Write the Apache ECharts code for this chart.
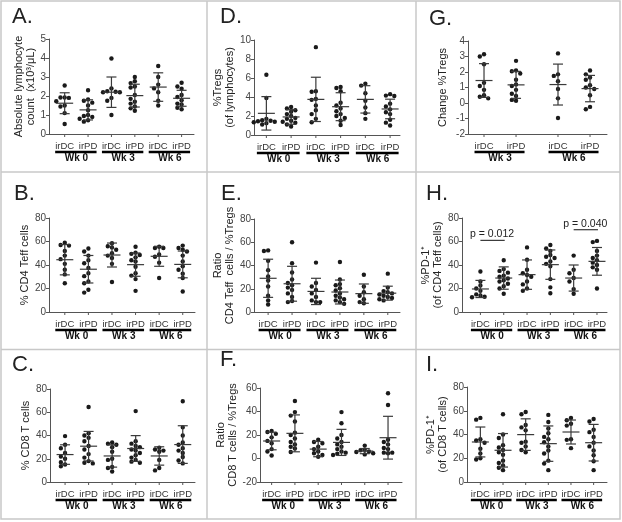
<!DOCTYPE html>
<html><head><meta charset="utf-8">
<script src="https://cdn.jsdelivr.net/npm/echarts@6/dist/echarts.min.js"></script>
<style>html,body{margin:0;padding:0;background:#fff}#c{width:622px;height:522px}</style>
</head><body><div id="c"></div>
<script>
const FONT = '"Liberation Sans", Arial, sans-serif';
const categories = ['irDC','irPD','irDC','irPD','irDC','irPD'];
const weeks = ['Wk 0','Wk 3','Wk 6'];
const categoriesG = ['irDC','irPD','irDC','irPD'];
const weeksG = ['Wk 3','Wk 6'];

// Panel A: absolute lymphocyte count
const A_values = [
 [2.55, 1.92, 1.92, 1.9, 1.72, 1.5, 1.45, 1.1, 0.53],
 [2.3, 1.82, 1.75, 1.65, 1.5, 1.25, 1.0, 0.95, 0.9, 0.8, 0.72, 0.65],
 [3.97, 2.4, 2.25, 2.22, 2.2, 2.2, 1.9, 1.75, 1.0],
 [3.0, 2.78, 2.68, 2.5, 2.45, 2.05, 1.85, 1.7, 1.6, 1.45, 1.35, 1.22],
 [3.58, 3.0, 2.6, 2.4, 2.2, 1.75, 1.5],
 [2.7, 2.5, 2.38, 2.05, 1.95, 1.78, 1.6, 1.55, 1.38, 1.3]
];
const A_mean = [1.62, 1.27, 2.2, 2.02, 2.47, 1.88];
const A_sd = [0.55, 0.53, 0.8, 0.6, 0.75, 0.42];

// Panel D: %Tregs
const D_values = [
 [6.35, 3.9, 1.7, 1.55, 1.5, 1.45, 1.4, 1.35, 1.25, 1.1],
 [2.95, 2.8, 2.6, 2.45, 2.2, 2.0, 1.8, 1.7, 1.5, 1.4, 1.3, 1.1, 0.9],
 [9.25, 4.6, 4.55, 3.8, 3.7, 3.1, 2.6, 2.2, 1.7, 1.35],
 [5.05, 4.95, 4.6, 3.4, 3.1, 2.8, 2.5, 2.2, 2.0, 1.8, 1.5, 1.05],
 [5.4, 5.2, 4.4, 3.6, 2.9, 2.3, 1.7],
 [4.3, 4.15, 4.1, 3.3, 3.0, 2.7, 2.4, 2.2, 1.6, 1.3, 1.0]
];
const D_mean = [2.28, 1.9, 3.75, 2.98, 3.75, 2.74];
const D_sd = [1.76, 0.77, 2.33, 1.47, 1.44, 1.03];

// Panel G: change %Tregs
const G_values = [
 [3.15, 3.0, 2.5, 1.3, 1.1, 0.85, 0.5, 0.4, 0.3],
 [2.72, 2.1, 2.05, 1.9, 1.5, 1.2, 1.1, 0.85, 0.6, 0.45, 0.2, 0.15],
 [3.2, 1.85, 1.75, 1.4, 0.9, 0.3, -0.97],
 [2.1, 1.85, 1.65, 1.5, 1.15, 1.0, 0.9, 0.5, -0.25, -0.4]
];
const G_mean = [1.45, 1.17, 1.19, 0.93];
const G_sd = [1.09, 0.87, 1.32, 0.85];

// Panel B: % CD4 Teff
const B_values = [
 [59, 57, 56.5, 52, 48, 45, 41, 36, 32, 24.5],
 [54, 51.5, 48, 44, 41.5, 37.5, 33, 30.5, 26, 24.5, 19, 16.5],
 [58.5, 56, 55, 53, 50, 48, 46, 41, 25.5],
 [55.5, 50.5, 49.5, 48.5, 46.5, 44, 43, 38.5, 33, 31, 28, 18],
 [55.5, 54.5, 54.5, 49, 47, 42, 29],
 [56.5, 54.5, 53, 51.5, 48, 43, 39, 36, 32.5, 29, 17.5]
];
const B_mean = [44.5, 36.4, 48.5, 40.3, 47.4, 40.5];
const B_sd = [12.9, 11.7, 10.2, 9.9, 8.5, 11.4];

// Panel E: ratio CD4 Teff / %Tregs
const E_values = [
 [53, 52.5, 44, 36, 30.5, 27, 22, 14, 10, 6.5],
 [60, 42, 34, 28, 25, 23, 21, 19, 16, 13, 9.5, 8.5],
 [42.5, 25, 22, 19, 16, 13, 10, 8.5, 8.5],
 [43, 28, 24, 23, 20.5, 18.5, 16, 14, 12.5, 11, 10, 8.5, 7],
 [32, 22, 17, 14, 11, 8.5, 7.5],
 [33, 21, 18, 17, 16, 15, 14, 13, 12, 11, 10]
];
const E_mean = [29, 24.3, 17.7, 17.2, 15.8, 16.2];
const E_sd = [16.4, 15, 11.3, 10.3, 8.3, 6.0];

// Panel H: %PD-1+ of CD4 Teff
const H_values = [
 [34.5, 26, 22.5, 20, 18, 15, 14, 13, 12.5],
 [44, 36.5, 35, 33.5, 31, 30, 28.5, 27, 26, 24, 22, 20, 15.5],
 [55, 44.5, 36, 33, 31.5, 30, 26, 23.5, 20, 18],
 [57, 54, 52, 48.5, 47, 46, 43, 41, 39, 28, 21, 16],
 [48, 36, 33, 29, 26, 19.5, 15.5],
 [60.5, 59.5, 52, 48, 46, 44, 42, 40, 38, 36, 20]
];
const H_mean = [19.6, 28.9, 31.8, 40.3, 28.9, 43.1];
const H_sd = [7.3, 9.5, 12.5, 12.5, 11.1, 11.8];
const H_pText = ['p = 0.012', 'p = 0.040'];
const H_pPairs = [[0, 1], [4, 5]];
const H_pLevel = [61, 70];

// Panel C: % CD8 T cells
const C_values = [
 [39.5, 32, 29, 25, 22, 20, 17, 15, 13.5],
 [64.5, 42, 40, 38, 35, 31, 28, 24, 21, 18, 16.5, 16],
 [34, 33, 32, 30, 26, 20, 19, 12, 13, 9],
 [61, 35, 33, 31, 30, 28, 27, 25, 23, 21, 19, 17.5, 16.5],
 [29.5, 28, 27, 26, 19, 12, 10],
 [69.5, 47, 40, 34, 32, 29, 27, 25, 21.5, 18.5, 16]
];
const C_mean = [23.6, 30.8, 22.4, 28.8, 22.4, 32.2];
const C_sd = [8.4, 12.7, 9.6, 11.1, 7.9, 16.2];

// Panel F: ratio CD8 T / %Tregs
const F_values = [
 [23.5, 22.5, 21, 18, 15, 13, 8, 6, 2.5],
 [49, 39.5, 36.5, 22, 31.5, 20, 17, 14, 12, 10, 8.5, 5.5],
 [16, 14, 13, 10, 8, 6, 4.5, 3, 1.5],
 [39.5, 30, 20, 17, 14, 12, 10, 8, 6, 5, 4, 3],
 [11, 7.5, 7, 6, 5.5, 4.5, 3.5],
 [55.5, 45.5, 16, 14, 12, 9, 8, 5, 5, 4.5]
];
const F_mean = [14.9, 21.4, 8.0, 13.7, 6.3, 17.7];
const F_sd = [7.5, 15.7, 6.5, 11.1, 2.2, 18.2];

// Panel I: %PD-1+ of CD8 T
const I_values = [
 [54, 52.5, 36, 35, 33, 28, 24, 20, 19],
 [57, 40, 37, 31, 29, 27, 25, 23, 18, 16, 14, 12, 10],
 [59, 57, 48, 46, 43.5, 33, 34, 30, 27, 25],
 [56.5, 50.5, 45, 41, 38, 36, 33.5, 30, 26.5, 24, 18, 15.5, 10],
 [54, 52, 49, 47.5, 36, 35.5, 28.5],
 [53, 51, 44, 42, 38, 33, 30, 26.5, 22.5, 17.5, 10]
];
const I_mean = [33.7, 26.7, 39.9, 32.3, 42.1, 33.1];
const I_sd = [12.6, 14.1, 13.3, 14.9, 10.1, 15.4];

// ---------- layout ----------
const X6 = [0, 1, 2, 3, 4, 5];
const XG = [0, 1, 2.31, 3.31];
const panels = [
 {letter:'A.', lx:13, ly:10, values:A_values, mean:A_mean, sd:A_sd, cats:categories, groups:weeks, xpos:X6,
  grid:{left:49, top:39, width:145, height:95}, ymin:0, ymax:5, yint:1, xmin:-0.67, xmax:5.53,
  name:'Absolute lymphocyte\ncount  (x10³/μL)', gap:12},
 {letter:'D.', lx:221, ly:10, values:D_values, mean:D_mean, sd:D_sd, cats:categories, groups:weeks, xpos:X6,
  grid:{left:254, top:40, width:146, height:95}, ymin:0, ymax:10, yint:2, xmin:-0.5, xmax:5.4,
  name:'%Tregs\n(of lymphocytes)', gap:12},
 {letter:'G.', lx:430, ly:12, values:G_values, mean:G_mean, sd:G_sd, cats:categoriesG, groups:weeksG, xpos:XG,
  grid:{left:468, top:41, width:139, height:93}, ymin:-2, ymax:4, yint:1, xmin:-0.5, xmax:3.84,
  name:'Change %Tregs', gap:19},
 {letter:'B.', lx:15, ly:187, values:B_values, mean:B_mean, sd:B_sd, cats:categories, groups:weeks, xpos:X6,
  grid:{left:49, top:218, width:146, height:94}, ymin:0, ymax:80, yint:20, xmin:-0.67, xmax:5.52,
  name:'% CD4 Teff cells', gap:12},
 {letter:'E.', lx:222, ly:187, values:E_values, mean:E_mean, sd:E_sd, cats:categories, groups:weeks, xpos:X6,
  grid:{left:254, top:219, width:146, height:93}, ymin:0, ymax:80, yint:20, xmin:-0.59, xmax:5.51,
  name:'Ratio\nCD4 Teff  cells / %Tregs', gap:16},
 {letter:'H.', lx:427, ly:187, values:H_values, mean:H_mean, sd:H_sd, cats:categories, groups:weeks, xpos:X6,
  grid:{left:462, top:218, width:145, height:94}, ymin:0, ymax:80, yint:20, xmin:-0.79, xmax:5.43,
  name:'%PD-1⁺\n(of CD4 Teff cells)', gap:16, p:true},
 {letter:'C.', lx:13, ly:358, values:C_values, mean:C_mean, sd:C_sd, cats:categories, groups:weeks, xpos:X6,
  grid:{left:50, top:389, width:145, height:93}, ymin:0, ymax:80, yint:20, xmin:-0.64, xmax:5.52,
  name:'% CD8 T cells', gap:14},
 {letter:'F.', lx:221, ly:353, values:F_values, mean:F_mean, sd:F_sd, cats:categories, groups:weeks, xpos:X6,
  grid:{left:260, top:388, width:142, height:94}, ymin:-20, ymax:60, yint:20, xmin:-0.5, xmax:5.6,
  name:'Ratio\nCD8 T cells / %Tregs', gap:20},
 {letter:'I.', lx:427, ly:358, values:I_values, mean:I_mean, sd:I_sd, cats:categories, groups:weeks, xpos:X6,
  grid:{left:467, top:387, width:140, height:95}, ymin:0, ymax:80, yint:20, xmin:-0.59, xmax:5.59,
  name:'%PD-1⁺\n(of CD8 T cells)', gap:12}
];

const DOT_R = 2.2, STEP = 4.2, MIND = 3.9;
function swarm(vals, pxPerUnit) {
  const placed = [], offs = new Array(vals.length).fill(0);
  const order = vals.map((v, i) => i).sort((a, b) => vals[b] - vals[a]);
  for (const i of order) {
    const py = vals[i] * pxPerUnit;
    for (let k = 0; k < 30; k++) {
      const o = (k % 2 === 1 ? -1 : 1) * Math.ceil(k / 2) * STEP;
      if (placed.every(q => Math.hypot(q[0] - o, q[1] - py) >= MIND)) { offs[i] = o; placed.push([o, py]); break; }
    }
  }
  return offs;
}

const grids = [], xAxes = [], yAxes = [], series = [], titles = [];
panels.forEach((p, gi) => {
  grids.push(Object.assign({containLabel:false}, p.grid));
  titles.push({text:p.letter, left:p.lx - 1, top:p.ly - 4, padding:0,
    textStyle:{fontSize:22, fontWeight:'normal', color:'#222', fontFamily:FONT}});
  xAxes.push({type:'value', gridIndex:gi, min:p.xmin, max:p.xmax,
    axisLine:{show:true, onZero:false, lineStyle:{color:'#555', width:1}},
    axisTick:{show:false}, axisLabel:{show:false}, splitLine:{show:false}});
  yAxes.push({type:'value', gridIndex:gi, min:p.ymin, max:p.ymax, interval:p.yint,
    axisLine:{show:true, onZero:false, lineStyle:{color:'#555', width:1}},
    axisTick:{show:true, length:3, lineStyle:{color:'#555'}},
    axisLabel:{fontSize:10, color:'#444', margin:3, fontFamily:FONT},
    splitLine:{show:false},
    name:p.name, nameLocation:'middle', nameRotate:90, nameGap:p.gap,
    nameTextStyle:{fontSize:11, color:'#222', lineHeight:12, fontFamily:FONT}});
  const pxY = p.grid.height / (p.ymax - p.ymin);
  // dots
  const dots = [];
  p.values.forEach((vals, ci) => {
    const offs = swarm(vals, pxY);
    vals.forEach((v, k) => dots.push([p.xpos[ci], v, offs[k]]));
  });
  series.push({type:'custom', xAxisIndex:gi, yAxisIndex:gi, data:dots, encode:{x:0, y:1}, z:3,
    renderItem:(params, api) => {
      const c = api.coord([api.value(0), api.value(1)]);
      return {type:'circle', shape:{cx:c[0] + api.value(2), cy:c[1], r:DOT_R}, style:{fill:'#1a1a1a'}};
    }});
  // mean ± SD
  series.push({type:'custom', xAxisIndex:gi, yAxisIndex:gi, z:4,
    data:p.mean.map((m, ci) => [p.xpos[ci], m, p.sd[ci]]), encode:{x:0, y:1},
    renderItem:(params, api) => {
      const x = api.value(0), m = api.value(1), s = api.value(2);
      const cm = api.coord([x, m]), ct = api.coord([x, m + s]), cb = api.coord([x, m - s]);
      const st = {stroke:'#3a3a3a', lineWidth:1.2};
      return {type:'group', children:[
        {type:'line', shape:{x1:cm[0]-8.5, y1:cm[1], x2:cm[0]+8.5, y2:cm[1]}, style:st},
        {type:'line', shape:{x1:ct[0], y1:ct[1], x2:cb[0], y2:cb[1]}, style:st},
        {type:'line', shape:{x1:ct[0]-5, y1:ct[1], x2:ct[0]+5, y2:ct[1]}, style:st},
        {type:'line', shape:{x1:cb[0]-5, y1:cb[1], x2:cb[0]+5, y2:cb[1]}, style:st}
      ]};
    }});
  // category ticks and labels
  series.push({type:'custom', xAxisIndex:gi, yAxisIndex:gi, clip:false, silent:true,
    data:p.cats.map((c, ci) => [p.xpos[ci], p.ymin]), encode:{x:0, y:1},
    renderItem:(params, api) => {
      const c = api.coord([api.value(0), api.value(1)]);
      return {type:'group', children:[
        {type:'line', shape:{x1:c[0], y1:c[1], x2:c[0], y2:c[1]+3}, style:{stroke:'#555', lineWidth:1}},
        {type:'text', style:{text:p.cats[params.dataIndex], x:c[0], y:c[1]+12, align:'center', verticalAlign:'middle',
          fontSize:9.5, fontFamily:FONT, fill:'#333'}}
      ]};
    }});
  // group bars and week labels
  series.push({type:'custom', xAxisIndex:gi, yAxisIndex:gi, clip:false, silent:true,
    data:p.groups.map((g, k) => [p.xpos[2*k], p.xpos[2*k+1], p.ymin]), encode:{x:[0,1], y:2},
    renderItem:(params, api) => {
      const a = api.coord([api.value(0), api.value(2)]), b = api.coord([api.value(1), api.value(2)]);
      return {type:'group', children:[
        {type:'line', shape:{x1:a[0]-9.5, y1:a[1]+18, x2:b[0]+8.5, y2:a[1]+18}, style:{stroke:'#000', lineWidth:2.5}},
        {type:'text', style:{text:p.groups[params.dataIndex], x:(a[0]+b[0])/2, y:a[1]+24.5, align:'center',
          verticalAlign:'middle', fontSize:10, fontWeight:'bold', fontFamily:FONT, fill:'#111'}}
      ]};
    }});
  if (p.p) {
    series.push({type:'custom', xAxisIndex:gi, yAxisIndex:gi, clip:false, silent:true,
      data:H_pPairs.map((pr, k) => [p.xpos[pr[0]], p.xpos[pr[1]], H_pLevel[k]]), encode:{x:[0,1], y:2},
      renderItem:(params, api) => {
        const a = api.coord([api.value(0), api.value(2)]), b = api.coord([api.value(1), api.value(2)]);
        return {type:'group', children:[
          {type:'line', shape:{x1:a[0], y1:a[1], x2:b[0]+1, y2:b[1]}, style:{stroke:'#111', lineWidth:1}},
          {type:'text', style:{text:H_pText[params.dataIndex], x:(a[0]+b[0])/2, y:a[1]-6, align:'center',
            verticalAlign:'middle', fontSize:10.5, fontFamily:FONT, fill:'#222'}}
        ]};
      }});
  }
});

const BORDER = '#c8c8c8';
const graphic = [
  {type:'rect', shape:{x:1, y:1, width:619, height:518}, style:{fill:'none', stroke:BORDER, lineWidth:1.5}, silent:true},
  {type:'line', shape:{x1:207, y1:1, x2:207, y2:519}, style:{stroke:BORDER, lineWidth:1.5}, silent:true},
  {type:'line', shape:{x1:416, y1:1, x2:416, y2:519}, style:{stroke:BORDER, lineWidth:1.5}, silent:true},
  {type:'line', shape:{x1:1, y1:172, x2:620, y2:172}, style:{stroke:BORDER, lineWidth:1.5}, silent:true},
  {type:'line', shape:{x1:1, y1:349.5, x2:620, y2:349.5}, style:{stroke:BORDER, lineWidth:1.5}, silent:true}
];

const chart = echarts.init(document.getElementById('c'), null, {renderer:'canvas'});
chart.setOption({
  animation:false, backgroundColor:'#fff',
  title:titles, grid:grids, xAxis:xAxes, yAxis:yAxes, series:series, graphic:graphic
});
</script></body></html>
